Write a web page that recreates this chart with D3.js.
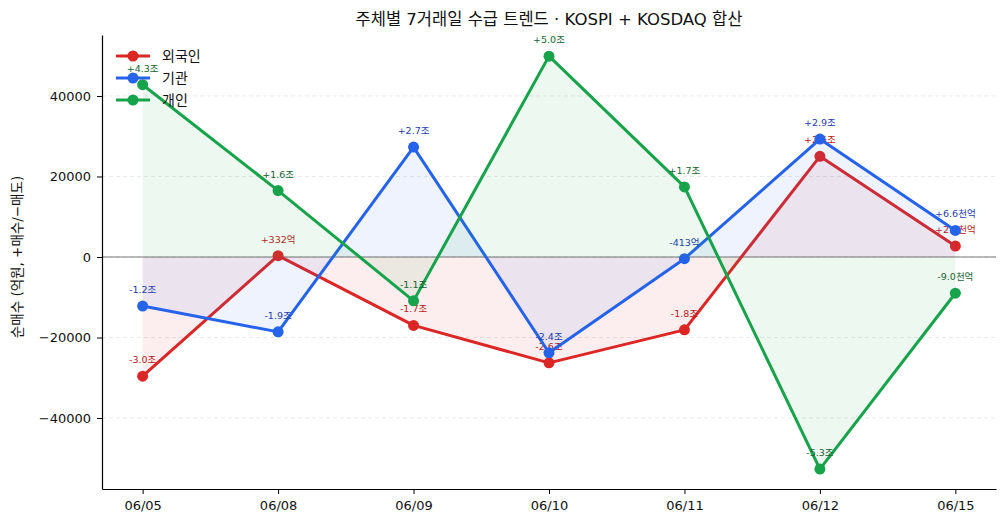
<!DOCTYPE html>
<html>
<head>
<meta charset="utf-8">
<script src="https://cdn.jsdelivr.net/npm/d3@7"></script>
<style>
  body { margin: 0; background: #fff; }
  svg { font-family: "DejaVu Sans", "Noto Sans CJK KR", sans-serif; }
</style>
</head>
<body>
<div id="chart"></div>
<script>
// 데이터 (억원)
const dates = ["06/05", "06/08", "06/09", "06/10", "06/11", "06/12", "06/15"];
const foreignVals = [-29600, 332, -17000, -26300, -18100, 25000, 2700];
const instVals = [-12200, -18600, 27300, -23800, -413, 29300, 6600];
const retailVals = [42800, 16500, -10900, 49900, 17400, -52700, -9000];
const seriesNames = ["외국인", "기관", "개인"];
const yTicks = [-40000, -20000, 0, 20000, 40000];

(function (d3) {
	"use strict";
	const W = 1008, H = 527;
	const margin = { top: 35, right: 12, bottom: 38, left: 102 };
	const pw = W - margin.left - margin.right;
	const ph = H - margin.top - margin.bottom;
	const font = "\"DejaVu Sans\", \"Noto Sans CJK KR\", sans-serif";

	const series = [
		{ name: seriesNames[0], values: foreignVals, color: "#dc2626", label: "#b91c1c" },
		{ name: seriesNames[1], values: instVals, color: "#2563eb", label: "#1e40af" },
		{ name: seriesNames[2], values: retailVals, color: "#16a34a", label: "#166534" }
	];

	const svg = d3.select("#chart").append("svg")
		.attr("width", W).attr("height", H);
	const g = svg.append("g")
		.attr("transform", "translate(" + margin.left + "," + margin.top + ")");

	const x = d3.scalePoint().domain(dates).range([0, pw]).padding(0.3);
	const y = d3.scaleLinear().domain([-57640, 55150]).range([ph, 0]);

	// grid
	g.selectAll(".grid").data(yTicks).enter().append("line")
		.attr("x1", 0).attr("x2", pw)
		.attr("y1", d => y(d)).attr("y2", d => y(d))
		.attr("stroke", "#e5e5e5").attr("stroke-width", 0.8)
		.attr("stroke-dasharray", "4,3");

	// zero line
	g.append("line")
		.attr("x1", 0).attr("x2", pw)
		.attr("y1", y(0)).attr("y2", y(0))
		.attr("stroke", "#777").attr("stroke-width", 1.2);

	const area = d3.area()
		.x((d, i) => x(dates[i]))
		.y0(y(0))
		.y1(d => y(d));
	const line = d3.line()
		.x((d, i) => x(dates[i]))
		.y(d => y(d));

	function fmt(v) {
		const s = v >= 0 ? "+" : "-";
		const a = Math.abs(v);
		if (a >= 10000) return s + (a / 10000).toFixed(1) + "조";
		if (a >= 1000) return s + (a / 1000).toFixed(1) + "천억";
		return s + a + "억";
	}

	series.forEach(s => {
		g.append("path").datum(s.values)
			.attr("d", area)
			.attr("fill", s.color).attr("fill-opacity", 0.08);
		g.append("path").datum(s.values)
			.attr("d", line)
			.attr("fill", "none").attr("stroke", s.color)
			.attr("stroke-width", 3).attr("stroke-linejoin", "round");
		g.selectAll(null).data(s.values).enter().append("circle")
			.attr("cx", (d, i) => x(dates[i]))
			.attr("cy", d => y(d))
			.attr("r", 5.5)
			.attr("fill", s.color);
		g.selectAll(null).data(s.values).enter().append("text")
			.attr("x", (d, i) => x(dates[i]))
			.attr("y", d => y(d) - 13)
			.attr("text-anchor", "middle")
			.attr("font-size", 9.5)
			.attr("fill", s.label)
			.text(d => fmt(d));
	});

	// axes
	const xAxis = g.append("g")
		.attr("transform", "translate(0," + ph + ")")
		.call(d3.axisBottom(x).tickSize(5).tickSizeOuter(0).tickPadding(7));
	const yAxis = g.append("g")
		.call(d3.axisLeft(y).tickValues(yTicks).tickSize(5).tickSizeOuter(0).tickPadding(6).tickFormat(d3.format("d")));
	[xAxis, yAxis].forEach(a => {
		a.select(".domain").attr("stroke", "#000").attr("stroke-width", 1.2);
		a.selectAll(".tick line").attr("stroke", "#000");
		a.selectAll("text").attr("font-size", 13).attr("fill", "#111")
			.attr("font-family", font);
	});
	yAxis.selectAll(".tick text").text(d => d < 0 ? "\u2212" + Math.abs(d) : d);

	// title
	svg.append("text")
		.attr("x", margin.left + pw / 2).attr("y", 25)
		.attr("text-anchor", "middle").attr("font-size", 16.5).attr("fill", "#111")
		.text("주체별 7거래일 수급 트렌드 · KOSPI + KOSDAQ 합산");

	// y label
	svg.append("text")
		.attr("transform", "translate(22," + (margin.top + y(0)) + ") rotate(-90)")
		.attr("text-anchor", "middle").attr("font-size", 13.5).attr("fill", "#111")
		.text("순매수 (억원, +매수/\u2212매도)");

	// legend
	const lg = g.append("g").attr("transform", "translate(14,21)");
	series.forEach((s, i) => {
		const row = lg.append("g").attr("transform", "translate(0," + (i * 22) + ")");
		row.append("line").attr("x1", 0).attr("x2", 34).attr("y1", 0).attr("y2", 0)
			.attr("stroke", s.color).attr("stroke-width", 3);
		row.append("circle").attr("cx", 17).attr("cy", 0).attr("r", 5.5).attr("fill", s.color);
		row.append("text").attr("x", 46).attr("y", 5).attr("font-size", 14).attr("fill", "#111")
			.text(s.name);
	});
})(d3);
</script>
</body>
</html>
